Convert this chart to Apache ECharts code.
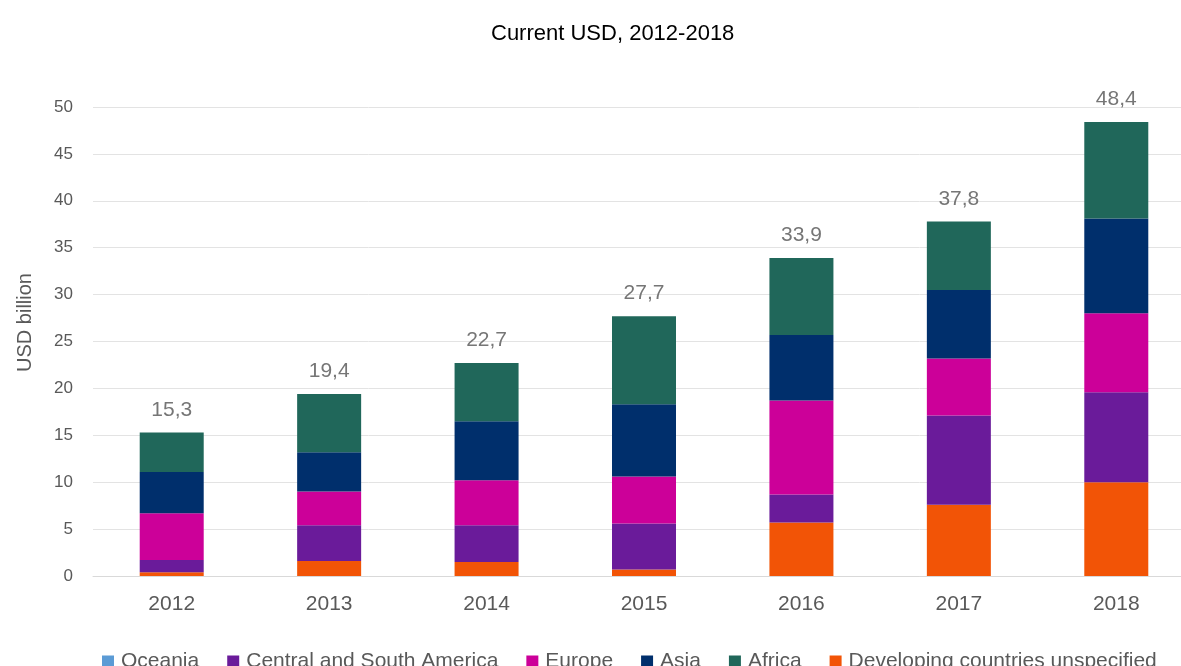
<!DOCTYPE html>
<html>
<head>
<meta charset="utf-8">
<script src="https://cdn.jsdelivr.net/npm/echarts@6/dist/echarts.min.js"></script>
<style>
  html, body { margin: 0; padding: 0; background: #fff; overflow: hidden; }
  /* plot runs past the right edge in the original, so the canvas is a bit wider than the window */
  #chart { width: 1195px; height: 666px; }
</style>
</head>
<body>
<div id="chart"></div>
<script>
// categories
const years = ['2012', '2013', '2014', '2015', '2016', '2017', '2018']

// series values, USD billion
const oceania = [0, 0, 0, 0, 0, 0, 0]
const developing = [0.4, 1.6, 1.5, 0.7, 5.7, 7.6, 10.0]
const centralSouthAmerica = [1.3, 3.8, 3.9, 4.9, 3.0, 9.5, 9.6]
const europe = [5.0, 3.6, 4.8, 5.0, 10.0, 6.1, 8.4]
const asia = [4.4, 4.2, 6.3, 7.7, 7.0, 7.3, 10.1]
const africa = [4.2, 6.2, 6.2, 9.4, 8.2, 7.3, 10.3]

// totals shown on top of each bar
const totals = [15.3, 19.4, 22.7, 27.7, 33.9, 37.8, 48.4]

const sans = '"Liberation Sans", Arial, sans-serif'

const chart = echarts.init(document.getElementById('chart'))

const barSeries = (name, data, color, extra = {}) => ({
  name,
  type: 'bar',
  stack: 'total',
  data,
  barWidth: 64,
  itemStyle: { color },
  emphasis: { disabled: true },
  ...extra
})

chart.setOption({
  animation: false,
  title: {
    text: 'Current USD, 2012-2018',
    left: 486,
    top: 18,
    textStyle: { fontFamily: sans, fontSize: 22, fontWeight: 'normal', color: '#000' }
  },
  legend: {
    data: ['Oceania', 'Central and South America', 'Europe', 'Asia', 'Africa', 'Developing countries unspecified'],
    left: 97,
    top: 646,
    icon: 'rect',
    itemWidth: 12,
    itemHeight: 12,
    itemGap: 28,
    textStyle: { fontFamily: sans, fontSize: 21, color: '#595959', padding: [0, 0, 0, 2] }
  },
  grid: { left: 93, right: 0, top: 107, bottom: 90, containLabel: false },
  xAxis: {
    type: 'category',
    data: years,
    axisLine: { lineStyle: { color: '#d9d9d9', width: 1 } },
    axisTick: { show: false },
    axisLabel: { fontFamily: sans, fontSize: 21, color: '#595959', margin: 18 }
  },
  yAxis: {
    type: 'value',
    min: 0,
    max: 50,
    interval: 5,
    name: 'USD billion',
    nameLocation: 'middle',
    nameGap: 58,
    nameTextStyle: { fontFamily: sans, fontSize: 20, color: '#595959', padding: [0, 0, 0, 38] },
    axisLine: { show: false },
    axisTick: { show: false },
    axisLabel: { fontFamily: sans, fontSize: 17, color: '#595959', margin: 20 },
    splitLine: { lineStyle: { color: '#e3e3e3', width: 1 } }
  },
  series: [
    barSeries('Oceania', oceania, '#5b9bd5'),
    barSeries('Developing countries unspecified', developing, '#f25406'),
    barSeries('Central and South America', centralSouthAmerica, '#6a1b9a'),
    barSeries('Europe', europe, '#cc0099'),
    barSeries('Asia', asia, '#002f6c'),
    barSeries('Africa', africa, '#20675a', {
      label: {
        show: true,
        position: 'top',
        distance: 12,
        fontFamily: sans,
        fontSize: 21,
        color: '#767676',
        formatter: (p) => String(totals[p.dataIndex]).replace('.', ',')
      }
    })
  ]
})
</script>
</body>
</html>
